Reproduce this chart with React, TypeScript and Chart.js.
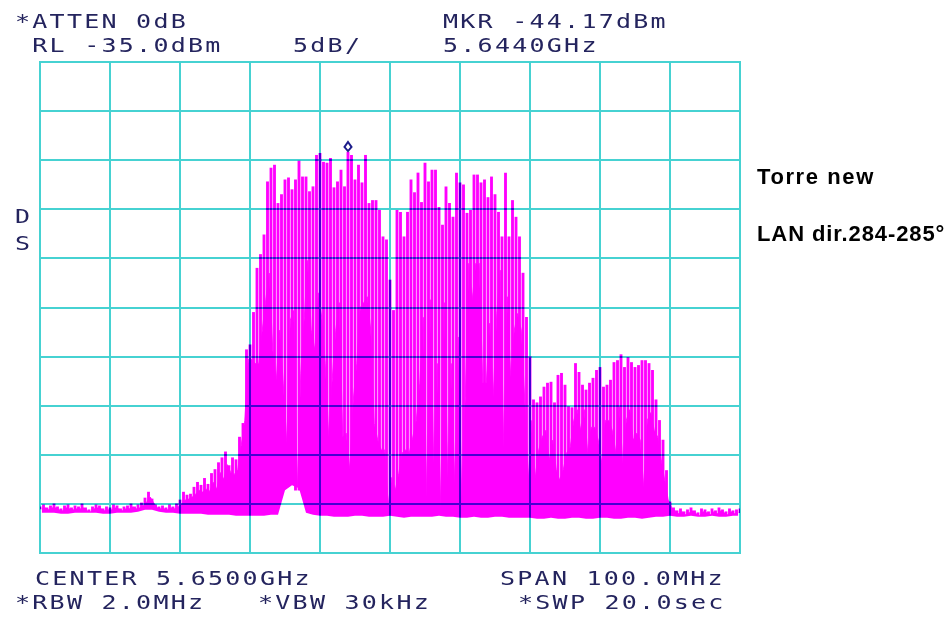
import React, { useEffect, useRef } from "react";
import { Chart, registerables } from "chart.js";

Chart.register(...registerables);

// ---- data (spectrum analyzer screen) ----
const START_MHZ = 5600;
const STEP_MHZ = 0.5;
const BASE_STEP_MHZ = 1;

// column (spike) tops, dBm, one per 0.5 MHz from 5600 to 5700 MHz
const peakDbm = [
  -80.3, -80.1, -80.4, -80.2, -80.0, -80.3, -80.5, -80.2, -80.1, -80.4,
  -80.2, -80.3, -80.0, -80.4, -80.6, -80.3, -80.1, -80.2, -80.5, -80.3,
  -80.4, -80.1, -80.2, -80.5, -80.3, -80.2, -80.0, -80.3, -80.1, -79.9,
  -79.4, -78.8, -79.5, -80.1, -80.3, -80.2, -80.4, -80.1, -80.3, -80.0,
  -79.6, -78.8, -79.1, -79.0, -78.3, -77.8, -78.1, -77.4, -78.0, -76.9,
  -76.5, -75.8, -75.3, -74.7, -76.1, -75.3, -75.5,
  -73.2, -71.8, -64.3, -63.8, -60.5, -56.0, -54.6, -52.6, -47.2, -45.8,
  -45.5, -49.4, -48.5, -47.0, -46.8, -48.0, -47.0, -45.1, -46.7, -46.7,
  -48.2, -47.7, -44.5, -44.3, -45.2, -45.3, -44.8, -47.8, -47.2, -46.0,
  -47.7, -44.17, -44.5, -47.0, -45.5, -47.3, -44.5, -49.4, -49.1, -49.1,
  -50.1, -52.8, -53.1, -57.2, -60.3, -50.1, -50.3, -52.8, -50.3, -47.0,
  -48.3, -46.3, -49.3, -45.3, -47.2,
  -46.0, -46.0, -49.8, -51.6, -47.7, -49.4, -50.8, -46.3, -47.3, -47.5,
  -50.4, -50.1, -46.5, -46.5, -47.3, -47.0, -48.8, -46.7, -48.5, -50.3,
  -52.8, -46.3, -52.8, -49.1, -50.8, -52.8, -56.5, -61.0, -65.0, -69.4,
  -69.7, -69.1, -68.1, -67.7, -67.6, -69.7, -66.9,
  -66.7, -67.9, -70.1, -70.2, -65.7, -66.6, -67.9, -68.4, -67.7, -67.2,
  -66.4, -66.1, -68.1, -67.9, -67.4, -65.6, -65.4, -64.8, -66.1, -65.1,
  -65.6, -66.1, -65.9, -65.4, -65.4, -65.7, -66.4, -69.4, -71.5, -73.5,
  -76.6, -79.8,
  -80.4, -80.7, -80.5, -80.8, -80.6, -80.4, -80.7, -80.9, -80.5, -80.6,
  -80.8, -80.5, -80.7, -80.4, -80.6, -80.8, -80.5, -80.7, -80.6, -80.5,
];

// bottoms of the white slits between neighbouring columns, dBm (at +0.25 MHz)
const slitDbm = [
  -80.5, -80.4, -80.6, -80.4, -80.4, -80.6, -80.7, -80.4, -80.5, -80.6,
  -80.5, -80.5, -80.4, -80.7, -80.8, -80.5, -80.4, -80.5, -80.7, -80.6,
  -80.6, -80.4, -80.5, -80.7, -80.5, -80.5, -80.3, -80.5, -80.4, -80.2,
  -79.8, -79.3, -79.9, -80.4, -80.5, -80.5, -80.6, -80.4, -80.5, -80.3,
  -80.0, -79.6, -79.5, -79.3, -79.0, -78.6, -78.8, -78.5, -78.7, -77.8,
  -78.5, -76.8, -77.5, -76.0, -76.8, -77.0, -76.5,
  -74.0, -71.5, -65.3, -65.3, -65.7, -65.7, -62.3, -59.2, -56.5, -64.3,
  -67.4, -62.3, -67.7, -73.8, -61.3, -60.3, -78.6, -66.7, -61.0, -55.2,
  -62.3, -64.3, -58.5, -61.0, -65.7, -73.2, -67.2, -62.3, -59.5, -73.2,
  -72.8, -76.5, -69.4, -65.7, -60.0, -59.5, -58.9, -62.3, -71.8, -73.5,
  -74.5, -74.5, -80.1, -77.3, -78.6, -76.9, -74.8, -74.5, -74.8, -73.2,
  -71.5, -67.7, -61.0, -79.3, -59.2,
  -75.8, -65.7, -80.3, -59.5, -77.3, -65.7, -77.9, -63.0, -79.3, -69.1,
  -55.5, -59.2, -55.5, -55.5, -67.7, -67.7, -61.6, -69.1, -60.6, -56.2,
  -74.2, -58.9, -67.1, -62.3, -60.6, -62.3, -69.4, -77.6, -71.5, -77.3,
  -74.5, -73.2, -72.5, -75.5, -73.5, -76.5, -77.6,
  -76.5, -74.8, -74.2, -71.5, -70.4, -72.5, -70.4, -74.8, -72.2, -72.2,
  -73.5, -75.8, -71.5, -71.5, -72.5, -74.8, -70.1, -75.8, -71.5, -70.4,
  -73.5, -72.8, -73.5, -78.3, -71.5, -70.7, -72.5, -73.2, -75.5, -77.6,
  -79.6, -80.4,
  -80.7, -81.0, -80.8, -81.1, -80.9, -80.7, -81.0, -81.2, -80.8, -80.9,
  -81.1, -80.8, -81.0, -80.7, -80.9, -81.1, -80.8, -81.0, -80.9,
];

// lower edge of the trace, dBm, every 1 MHz
const baseDbm = [
  -80.9, -80.9, -80.9, -81.0, -81.0, -80.9, -80.9, -80.9, -80.9, -81.0,
  -81.0, -80.9, -80.9, -80.9, -80.8, -80.6, -80.6, -80.8, -80.9, -80.9,
  -81.0, -81.0, -81.0, -81.0, -81.1, -81.1, -81.1, -81.1, -81.2, -81.2,
  -81.2, -81.2, -81.2, -81.1, -81.1, -78.6, -78.1, -78.4, -80.9, -81.1,
  -81.2, -81.2, -81.3, -81.3, -81.3, -81.2, -81.2, -81.3, -81.3, -81.3,
  -81.2, -81.3, -81.4, -81.3, -81.3, -81.3, -81.3, -81.2, -81.3, -81.3,
  -81.4, -81.4, -81.3, -81.4, -81.4, -81.3, -81.3, -81.4, -81.4, -81.4,
  -81.4, -81.5, -81.5, -81.4, -81.5, -81.5, -81.4, -81.4, -81.5, -81.5,
  -81.4, -81.4, -81.5, -81.5, -81.4, -81.4, -81.5, -81.4, -81.3, -81.3,
  -81.2, -81.3, -81.3, -81.2, -81.3, -81.3, -81.2, -81.3, -81.3, -81.2,
  -81.2,
];

const freqTicks = [5600, 5610, 5620, 5630, 5640, 5650, 5660, 5670, 5680, 5690, 5700];
const levelTicks = [-85, -80, -75, -70, -65, -60, -55, -50, -45, -40, -35];

const markerFreq = 5644;
const markerDbm = -44.17;

const topLeftLines = ["*ATTEN 0dB", " RL -35.0dBm"];
const scaleLabel = "5dB/";
const markerLines = ["MKR -44.17dBm", "5.6440GHz"];
const sideLetters = ["D", "S"];
const bottomLines = ["CENTER 5.6500GHz", "*RBW 2.0MHz", "*VBW 30kHz", "SPAN 100.0MHz", "*SWP 20.0sec"];
const noteLines = ["Torre new", "LAN dir.284-285°"];

// ---- styles ----
const TRACE = "#ff00ff";
const GRID = "#46d2d2";
const TEXT = "#24245e";

const mono: React.CSSProperties = {
  position: "absolute",
  fontFamily: '"DejaVu Sans Mono", monospace',
  fontSize: "20px",
  lineHeight: "20px",
  letterSpacing: "1.8px",
  color: TEXT,
  whiteSpace: "pre",
  transform: "scaleX(1.25)",
  transformOrigin: "0 0",
  margin: 0,
};

function Mono(props: { x: number; top: number; text: string }) {
  return <div style={{ ...mono, left: props.x, top: props.top }}>{props.text}</div>;
}

export default function App() {
  const ref = useRef<HTMLCanvasElement | null>(null);

  useEffect(() => {
    const canvas = ref.current;
    if (!canvas) return;

    const bars = peakDbm.map((p, k) => {
      const l = slitDbm[Math.max(0, k - 1)];
      const r = slitDbm[Math.min(slitDbm.length - 1, k)];
      return { x: START_MHZ + k * STEP_MHZ, y: [Math.min(l, r), p] };
    });
    const body = slitDbm.map((s, k) => ({ x: START_MHZ + (k + 0.5) * STEP_MHZ, y: s }));
    const base = baseDbm.map((b, i) => ({ x: START_MHZ + i * BASE_STEP_MHZ, y: b }));

    const gridPlugin = {
      id: "saGrid",
      afterDatasetsDraw(chart: any) {
        const { ctx, chartArea, scales } = chart;
        ctx.save();
        ctx.globalCompositeOperation = "multiply";
        ctx.strokeStyle = GRID;
        ctx.lineWidth = 2;
        ctx.beginPath();
        freqTicks.forEach((f) => {
          const x = Math.round(scales.x.getPixelForValue(f));
          ctx.moveTo(x, chartArea.top - 1);
          ctx.lineTo(x, chartArea.bottom + 1);
        });
        levelTicks.forEach((v) => {
          const y = Math.round(scales.y.getPixelForValue(v));
          ctx.moveTo(chartArea.left - 1, y);
          ctx.lineTo(chartArea.right + 1, y);
        });
        ctx.stroke();
        ctx.restore();

        // marker diamond
        const mx = scales.x.getPixelForValue(markerFreq);
        const my = scales.y.getPixelForValue(markerDbm) - 5;
        ctx.save();
        ctx.beginPath();
        ctx.moveTo(mx, my - 5);
        ctx.lineTo(mx + 3.5, my);
        ctx.lineTo(mx, my + 4);
        ctx.lineTo(mx - 3.5, my);
        ctx.closePath();
        ctx.fillStyle = "#ffffff";
        ctx.fill();
        ctx.strokeStyle = "#1c1c8a";
        ctx.lineWidth = 2;
        ctx.stroke();
        ctx.restore();
      },
    };

    const chart = new Chart(canvas, {
      type: "line",
      data: {
        datasets: [
          {
            type: "bar",
            data: bars as any,
            backgroundColor: TRACE,
            borderWidth: 0,
            barThickness: 2.2,
            grouped: false,
            order: 1,
          } as any,
          {
            type: "line",
            data: base as any,
            borderColor: "rgba(0,0,0,0)",
            borderWidth: 0,
            pointRadius: 0,
            fill: "start",
            backgroundColor: "#ffffff",
            order: 2,
          },
          {
            type: "line",
            data: body as any,
            borderColor: TRACE,
            borderWidth: 0.8,
            pointRadius: 0,
            fill: "start",
            backgroundColor: TRACE,
            order: 3,
          },
        ],
      },
      options: {
        animation: false,
        responsive: false,
        maintainAspectRatio: false,
        layout: { padding: { left: 40, top: 62, right: 207, bottom: 64 } },
        plugins: { legend: { display: false }, tooltip: { enabled: false } },
        scales: {
          x: { type: "linear", min: 5600, max: 5700, display: false, offset: false },
          y: { type: "linear", min: -85, max: -35, display: false },
        },
      },
      plugins: [gridPlugin],
    });
    return () => chart.destroy();
  }, []);

  const notes: React.CSSProperties = {
    position: "absolute",
    fontFamily: '"Liberation Sans", Arial, sans-serif',
    fontWeight: "bold",
    color: "#000",
    whiteSpace: "pre",
    margin: 0,
  };

  return (
    <div style={{ position: "absolute", left: 0, top: 0, width: 947, height: 617, background: "#fff", overflow: "hidden" }}>
      <canvas ref={ref} width={947} height={617} style={{ position: "absolute", left: 0, top: 0, width: 947, height: 617 }} />
      <Mono x={15} top={10.7} text={topLeftLines[0]} />
      <Mono x={15} top={34.7} text={topLeftLines[1]} />
      <Mono x={293} top={34.7} text={scaleLabel} />
      <Mono x={443} top={10.7} text={markerLines[0]} />
      <Mono x={443} top={34.7} text={markerLines[1]} />
      <Mono x={15} top={205.7} text={sideLetters[0]} />
      <Mono x={15} top={232.7} text={sideLetters[1]} />
      <Mono x={35} top={567.7} text={bottomLines[0]} />
      <Mono x={15} top={591.7} text={bottomLines[1]} />
      <Mono x={258} top={591.7} text={bottomLines[2]} />
      <Mono x={500} top={567.7} text={bottomLines[3]} />
      <Mono x={518} top={591.7} text={bottomLines[4]} />
      <div style={{ ...notes, left: 757, top: 166, fontSize: "22px", lineHeight: "22px", letterSpacing: "1.6px" }}>{noteLines[0]}</div>
      <div style={{ ...notes, left: 757, top: 222.5, fontSize: "22px", lineHeight: "22px", letterSpacing: "0.9px" }}>{noteLines[1]}</div>
    </div>
  );
}
